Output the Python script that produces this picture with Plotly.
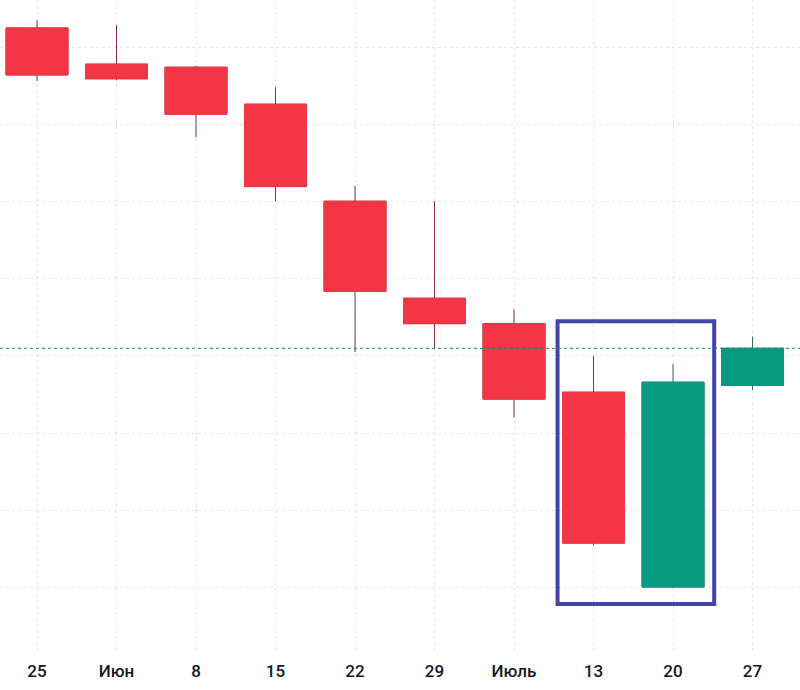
import pandas as pd
import plotly.graph_objects as go

dates = ["2020-05-25", "2020-06-01", "2020-06-08", "2020-06-15", "2020-06-22",
         "2020-06-29", "2020-07-06", "2020-07-13", "2020-07-20", "2020-07-27"]
tick_labels = ["25", "Июн", "8", "15", "22", "29", "Июль", "13", "20", "27"]
open_ = [172.6, 167.9, 167.5, 162.7, 150.1, 137.5, 134.2, 125.3, 100.0, 126.2]
high = [173.6, 173.0, 167.7, 164.9, 152.1, 150.1, 136.1, 130.0, 129.0, 132.5]
low = [165.7, 165.8, 158.4, 150.1, 130.5, 131.0, 122.0, 105.4, 99.9, 125.6]
close = [166.5, 166.0, 161.4, 152.0, 138.4, 134.2, 124.4, 105.7, 126.6, 131.0]

RED = "#F23645"
GREEN = "#089981"
RED_WICK = "#80303d"
GREEN_WICK = "#2a6b60"
GRID = "#e3e5ea"

dt = pd.to_datetime(dates)
body_hi = [max(o, c) for o, c in zip(open_, close)]
body_lo = [min(o, c) for o, c in zip(open_, close)]

fig = go.Figure()
# wicks (full candles in wick colour, covered by bodies below)
fig.add_trace(go.Candlestick(
    x=dt, open=open_, high=high, low=low, close=close,
    increasing=dict(line=dict(color=GREEN_WICK, width=1), fillcolor=GREEN),
    decreasing=dict(line=dict(color=RED_WICK, width=1), fillcolor=RED),
    whiskerwidth=0, showlegend=False, hoverinfo="skip",
))
# bodies
fig.add_trace(go.Candlestick(
    x=dt, open=open_, high=body_hi, low=body_lo, close=close,
    increasing=dict(line=dict(color=GREEN, width=1), fillcolor=GREEN),
    decreasing=dict(line=dict(color=RED, width=1), fillcolor=RED),
    whiskerwidth=0, showlegend=False, hoverinfo="x+y",
))

# highlight box around weeks 13 and 20 July
x0 = dt[7] - pd.Timedelta(hours=76)
x1 = dt[8] + pd.Timedelta(hours=87)
y0 = min(low[7], low[8]) - 2.1
y1 = max(high[7], high[8]) + 4.5
fig.add_shape(type="rect", x0=x0, x1=x1, y0=y0, y1=y1,
              line=dict(color="#4343AB", width=4), fillcolor="rgba(0,0,0,0)")

# last price dotted line
fig.add_hline(y=close[-1], line=dict(color="#2a7a6e", width=1, dash="dot"))

xr0 = dt[0] - pd.Timedelta(hours=78.2)
xr1 = dt[0] + pd.Timedelta(hours=67.18 * 24)

fig.update_layout(
    width=800, height=690,
    margin=dict(l=0, r=0, t=0, b=40),
    paper_bgcolor="white", plot_bgcolor="white",
    boxgap=0.22, boxgroupgap=0, boxmode="overlay",
    xaxis=dict(
        range=[xr0, xr1], rangeslider=dict(visible=False),
        tickvals=dt, ticktext=tick_labels,
        showgrid=True, gridcolor=GRID, griddash="dot", gridwidth=1,
        ticks="outside", ticklen=6, tickcolor="rgba(0,0,0,0)",
        tickfont=dict(family="Roboto, sans-serif", size=17, color="#131722", weight=500),
        zeroline=False, showline=False,
    ),
    yaxis=dict(
        range=[91.82, 176.23], dtick=10, tick0=100,
        showgrid=True, gridcolor=GRID, griddash="dot", gridwidth=1,
        showticklabels=False, zeroline=False, showline=False,
    ),
)

fig.write_html("out.html")
